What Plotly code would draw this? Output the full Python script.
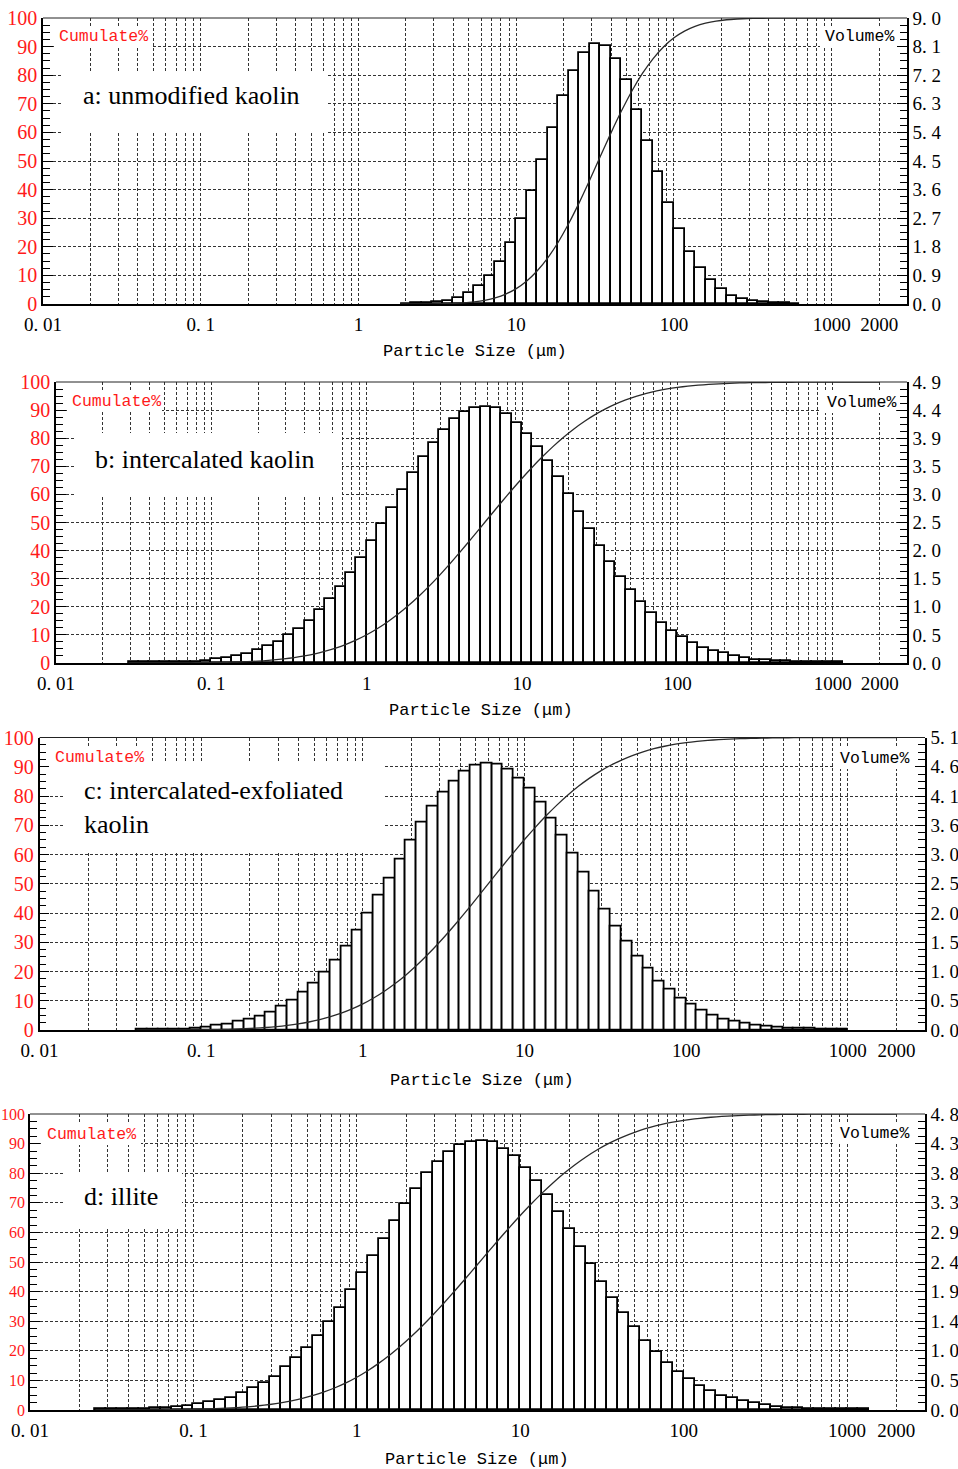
import math
import plotly.graph_objects as go

W, H = 958, 1469
BINS_PER_DECADE = 15          # instrument size classes: 15 per decade
X_MIN_UM, X_MAX_UM = 0.01, 3000
CUM_END_UM = 2000             # upper limit of the measuring range

x_tick_vals = [0.01, 0.1, 1, 10, 100, 1000, 2000]
x_tick_text = ["0. 01", "0. 1", "1", "10", "100", "1000", "2000"]
cum_tick_vals = [0, 10, 20, 30, 40, 50, 60, 70, 80, 90, 100]
cum_tick_text = ["0", "10", "20", "30", "40", "50", "60", "70", "80", "90", "100"]

# ---- a: unmodified kaolin (volume % per size class, first class index 4)
a_first_bin = 4
a_volume = [0.01, 0.02, 0.03, 0.05, 0.09, 0.19, 0.34, 0.56, 0.87, 1.31,
            1.91, 2.68, 3.57, 4.52, 5.55, 6.53, 7.33, 7.91, 8.18, 8.13,
            7.71, 7.04, 6.12, 5.13, 4.15, 3.18, 2.35, 1.65, 1.13, 0.74,
            0.46, 0.26, 0.16, 0.08, 0.05, 0.03, 0.02, 0.01]
a_vol_max = 9.0
a_vol_ticks = ["0. 0", "0. 9", "1. 8", "2. 7", "3. 6", "4. 5", "5. 4", "6. 3", "7. 2", "8. 1", "9. 0"]

# ---- b: intercalated kaolin (first class index -23)
b_first_bin = -23
b_volume = [0.01, 0.01, 0.01, 0.01, 0.015, 0.02, 0.025, 0.035,
            0.065, 0.09, 0.12, 0.16, 0.22, 0.29, 0.37, 0.48, 0.60, 0.74,
            0.93, 1.11, 1.33, 1.57, 1.83,
            2.12, 2.42, 2.71, 3.02, 3.31, 3.60, 3.84, 4.06, 4.25, 4.38,
            4.45, 4.47, 4.44, 4.35, 4.19, 4.00, 3.77, 3.53, 3.25, 2.95,
            2.64, 2.34, 2.04, 1.77, 1.50, 1.28, 1.06, 0.87, 0.70, 0.55,
            0.45, 0.35, 0.27, 0.21, 0.17, 0.13, 0.09, 0.06, 0.05,
            0.035, 0.03, 0.025, 0.02, 0.015, 0.01, 0.01]
b_vol_max = 4.9
b_vol_ticks = ["0. 0", "0. 5", "1. 0", "1. 5", "2. 0", "2. 5", "3. 0", "3. 5", "3. 9", "4. 4", "4. 9"]

# ---- c: intercalated-exfoliated kaolin (first class index -21)
c_first_bin = -21
c_volume = [0.01, 0.01, 0.01, 0.01, 0.015, 0.02, 0.04, 0.08, 0.10, 0.14,
            0.18, 0.24, 0.31, 0.41, 0.52, 0.66, 0.81, 1.01, 1.22, 1.46, 1.73,
            2.04, 2.34, 2.65, 2.97, 3.30, 3.61, 3.89, 4.14, 4.34, 4.51,
            4.61, 4.65, 4.63, 4.54, 4.39, 4.21, 3.96, 3.69, 3.39, 3.07,
            2.74, 2.42, 2.10, 1.80, 1.55, 1.28, 1.07, 0.85, 0.70, 0.55,
            0.44, 0.34, 0.25, 0.19, 0.14, 0.11, 0.08, 0.06, 0.05, 0.03,
            0.02, 0.02, 0.015, 0.01, 0.01]
c_vol_max = 5.1
c_vol_ticks = ["0. 0", "0. 5", "1. 0", "1. 5", "2. 0", "2. 5", "3. 0", "3. 6", "4. 1", "4. 6", "5. 1"]

# ---- d: illite (first class index -24)
d_first_bin = -24
d_volume = [0.01, 0.01, 0.01, 0.01, 0.01, 0.025, 0.04, 0.045, 0.07, 0.09,
            0.135, 0.16, 0.20, 0.28, 0.35, 0.44, 0.54, 0.69, 0.84, 1.01,
            1.20, 1.43, 1.66, 1.94,
            2.22, 2.50, 2.77, 3.06, 3.34, 3.59, 3.84, 4.02, 4.18, 4.30,
            4.35, 4.37, 4.34, 4.23, 4.12, 3.93, 3.72, 3.49, 3.21, 2.93,
            2.64, 2.36, 2.08, 1.81, 1.57, 1.34, 1.12, 0.94, 0.76, 0.61,
            0.50, 0.39, 0.31, 0.23, 0.19, 0.15, 0.11, 0.08, 0.05, 0.04,
            0.03, 0.02, 0.02, 0.015, 0.01, 0.01, 0.01]
d_vol_max = 4.8
d_vol_ticks = ["0. 0", "0. 5", "1. 0", "1. 4", "1. 9", "2. 4", "2. 9", "3. 3", "3. 8", "4. 3", "4. 8"]

labels = ["a: unmodified kaolin", "b: intercalated kaolin",
          "c: intercalated-exfoliated<br>kaolin", "d: illite"]

# ---- layout geometry (pixels)
frames = [(43, 907, 18, 304), (56, 907, 382, 663), (39.5, 925, 737.5, 1030), (30, 925, 1114, 1410)]
left_font = [20, 20, 20, 16]
label_pos = [(81, 96), (93, 460), (82, 807), (82, 1196)]
label_box = [(63, 328, 72, 133), (75, 342, 433, 497), (63, 383, 763, 853), (65, 182, 1172, 1227)]
cum_pos = [(57, 37), (70, 401), (53, 757), (45, 1134)]
cum_box = [(54, 152, 27, 48), (67, 162, 390, 412), (50, 150, 746, 768), (41, 141, 1123, 1145)]
vol_pos = [(823, 37), (825, 402), (838, 758), (838, 1133)]
vol_box = [(820, 896, 26, 48), (821, 896, 391, 413), (834, 914, 747, 769), (834, 914, 1122, 1144)]
title_pos = [(475, 351), (481, 710), (482, 1080), (477, 1459)]

panels = [
    (a_first_bin, a_volume, a_vol_max, a_vol_ticks),
    (b_first_bin, b_volume, b_vol_max, b_vol_ticks),
    (c_first_bin, c_volume, c_vol_max, c_vol_ticks),
    (d_first_bin, d_volume, d_vol_max, d_vol_ticks),
]

GRID = "#333333"
DASH = "3px,2px"
minor_x = [m * 10 ** e for e in range(-2, 3) for m in range(2, 10)]

fx = lambda p: p / W
fy = lambda p: 1 - p / H

fig = go.Figure()
layout = dict(width=W, height=H, margin=dict(l=0, r=0, t=0, b=0),
              paper_bgcolor="white", plot_bgcolor="white",
              showlegend=False, hovermode=False, bargap=0)
shapes, annotations = [], []

for i, (first, vol, vmax, vticks) in enumerate(panels, start=1):
    xa = "x" if i == 1 else f"x{i}"
    yv = "y" if i == 1 else f"y{2 * i - 1}"
    yc = f"y{2 * i}"
    xname = "xaxis" if i == 1 else f"xaxis{i}"
    yvname = "yaxis" if i == 1 else f"yaxis{2 * i - 1}"
    ycname = f"yaxis{2 * i}"

    ks = list(range(first, first + len(vol)))
    lower = [10 ** (k / BINS_PER_DECADE) for k in ks]
    upper = [10 ** ((k + 1) / BINS_PER_DECADE) for k in ks]
    widths = [u - l for l, u in zip(lower, upper)]

    fig.add_trace(go.Bar(
        x=lower, y=vol, width=widths, offset=0, xaxis=xa, yaxis=yv,
        marker=dict(color="white", line=dict(color="black", width=1.8)),
        name="Volume%"))

    total = sum(vol)
    cum, run = [], 0.0
    for v in vol:
        run += v
        cum.append(run / total * 100)
    fig.add_trace(go.Scatter(
        x=[lower[0]] + upper + [CUM_END_UM], y=[0] + cum + [100],
        mode="lines", xaxis=xa, yaxis=yc,
        line=dict(color="#2a2a2a", width=1.3, shape="spline", smoothing=0.6),
        name="Cumulate%"))

    L, R, T, B = frames[i - 1]
    layout[xname] = dict(
        type="log", range=[math.log10(X_MIN_UM), math.log10(X_MAX_UM)],
        domain=[fx(L), fx(R)], anchor=yv, automargin=False,
        showline=True, linecolor="black", linewidth=2, ticks="",
        tickmode="array", tickvals=x_tick_vals, ticktext=x_tick_text,
        tickfont=dict(family="Liberation Serif", size=19, color="black"),
        ticklabelstandoff=2,
        showgrid=True, gridcolor=GRID, gridwidth=1, griddash=DASH, zeroline=False,
        minor=dict(tickmode="array", tickvals=minor_x, showgrid=True,
                   gridcolor=GRID, gridwidth=1, griddash=DASH, ticks=""))
    layout[yvname] = dict(
        domain=[fy(B), fy(T)], anchor=xa, side="right", range=[0, vmax],
        automargin=False, showline=True, linecolor="black", linewidth=1.5,
        ticks="inside", ticklen=10, tickcolor="black", tickwidth=1,
        tickmode="array", tickvals=[vmax * j / 10 for j in range(11)], ticktext=vticks,
        tickfont=dict(family="Liberation Serif", size=19, color="black"),
        showgrid=True, gridcolor=GRID, gridwidth=1, griddash=DASH, zeroline=False,
        minor=dict(tickmode="array", tickvals=[vmax * j / 40 for j in range(41) if j % 4],
                   ticks="inside", ticklen=7, tickcolor="black", showgrid=False))
    layout[ycname] = dict(
        overlaying=yv, anchor=xa, side="left", range=[0, 100], automargin=False,
        showline=True, linecolor="black", linewidth=1.5,
        ticks="inside", ticklen=10, tickcolor="black", tickwidth=1,
        tickmode="array", tickvals=cum_tick_vals, ticktext=cum_tick_text,
        tickfont=dict(family="Liberation Serif", size=left_font[i - 1], color="#ff1a1a"),
        showgrid=False, zeroline=False,
        minor=dict(dtick=2.5, ticks="inside", ticklen=7, tickcolor="black", showgrid=False))

    # top border of the frame
    shapes.append(dict(type="line", xref=f"{xa} domain", yref=f"{yv} domain",
                       x0=0, x1=1, y0=1, y1=1, line=dict(color="#222", width=1)))
    # white backgrounds behind the texts
    for (bx0, bx1, by0, by1) in (label_box[i - 1], cum_box[i - 1], vol_box[i - 1]):
        shapes.append(dict(type="rect", xref="paper", yref="paper", layer="above",
                           x0=fx(bx0), x1=fx(bx1), y0=fy(by1), y1=fy(by0),
                           fillcolor="white", line=dict(width=0)))

    lx, ly = label_pos[i - 1]
    annotations.append(dict(text=labels[i - 1], xref="paper", yref="paper",
                            x=fx(lx), y=fy(ly), xanchor="left", yanchor="middle",
                            align="left", showarrow=False,
                            font=dict(family="Liberation Serif", size=26, color="black")))
    cx, cy = cum_pos[i - 1]
    annotations.append(dict(text="Cumulate%", xref="paper", yref="paper",
                            x=fx(cx), y=fy(cy), xanchor="left", yanchor="middle",
                            showarrow=False,
                            font=dict(family="Liberation Mono", size=16.5, color="#ff1a1a")))
    vx, vy = vol_pos[i - 1]
    annotations.append(dict(text="Volume%", xref="paper", yref="paper",
                            x=fx(vx), y=fy(vy), xanchor="left", yanchor="middle",
                            showarrow=False,
                            font=dict(family="Liberation Mono", size=16.5, color="black")))
    tx, ty = title_pos[i - 1]
    annotations.append(dict(text="Particle Size (μm)", xref="paper", yref="paper",
                            x=fx(tx), y=fy(ty), xanchor="center", yanchor="middle",
                            showarrow=False,
                            font=dict(family="Liberation Mono", size=17, color="black")))

layout["shapes"] = shapes
layout["annotations"] = annotations
fig.update_layout(**layout)

fig.write_html("out.html", config={"displayModeBar": False},
               post_script="document.body.style.margin='0px';")
